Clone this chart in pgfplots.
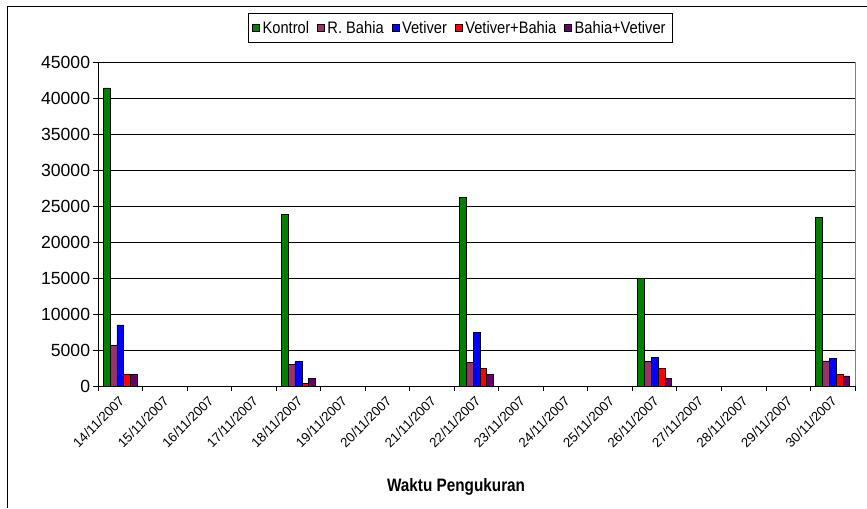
\documentclass[border=0pt]{standalone}
\usepackage{fontspec}
\setmainfont{Liberation Sans}
\newfontfamily\narrowfont[FakeStretch=0.88]{Liberation Sans}
\newfontfamily\labelfont[FakeStretch=0.85]{Liberation Sans}
\usepackage{pgfplots}
\usepackage{pgfplotstable}
\pgfplotsset{compat=1.18}
\definecolor{cK}{RGB}{0,128,0}
\definecolor{cRB}{RGB}{153,51,102}
\definecolor{cV}{RGB}{0,0,255}
\definecolor{cVB}{RGB}{255,0,0}
\definecolor{cBV}{RGB}{102,0,102}
\pgfplotstableread{
x k rb v vb bv
0 41400 5600 8500 1600 1600
4 23800 3000 3400 400 1100
8 26200 3300 7500 2500 1600
12 14900 3400 4000 2500 1100
16 23400 3500 3800 1600 1400
}\datatable
\begin{document}
\begin{tikzpicture}
\useasboundingbox (-73.5pt,-91.5pt) rectangle (576.75pt,289.5pt);
\draw[black,line width=0.75pt] (-67.5pt,-91.5pt) -- (-67.5pt,284.25pt) -- (576.75pt,284.25pt);
\begin{axis}[
  at={(0pt,0pt)}, anchor=south west,
  scale only axis,
  width=567.75pt, height=243pt,
  ybar=0pt, bar width=5.1pt,
  xmin=-0.5, xmax=16.5,
  ymin=0, ymax=45000,
  axis x line=bottom, axis y line=left,
  axis line style={-, black, line width=0.6pt},
  xtick={0,...,16},
  xticklabels={14/11/2007,15/11/2007,16/11/2007,17/11/2007,18/11/2007,19/11/2007,20/11/2007,21/11/2007,22/11/2007,23/11/2007,24/11/2007,25/11/2007,26/11/2007,27/11/2007,28/11/2007,29/11/2007,30/11/2007},
  minor xtick={-0.5,0.5,...,16.5},
  major x tick style={draw=none},
  minor x tick style={black, line width=0.6pt},
  minor tick length=3.75pt,
  tick align=outside,
  major tick length=3.75pt,
  ytick={0,5000,...,45000},
  y tick style={black, line width=0.6pt},
  ymajorgrids,
  grid style={black, line width=0.5pt},
  scaled y ticks=false,
  /pgf/number format/1000 sep={},
  /pgf/number format/assume math mode=true,
  yticklabel style={font=\fontsize{13.2}{15}\selectfont, inner sep=2pt},
  xticklabel style={font=\fontsize{10}{11}\selectfont, rotate=45, anchor=north east, inner sep=1pt, xshift=-2pt},
  xlabel={\labelfont\bfseries Waktu Pengukuran},
  xlabel style={font=\fontsize{13.5}{15}\selectfont, at={(rel axis cs:0.473,0)}, anchor=center, yshift=-76pt},
  legend columns=-1,
  legend style={at={(rel axis cs:0.4785,1.105)}, anchor=center, draw=black, line width=0.6pt, fill=white,
    font=\narrowfont\fontsize{12.5}{14}\selectfont, inner xsep=3pt, inner ysep=3.5pt,
    /tikz/every even column/.append style={column sep=4pt}},
  legend image code/.code={\draw[#1,draw=black,line width=0.4pt] (0pt,-2.7pt) rectangle (5.4pt,2.7pt);},
  every axis plot/.append style={draw=black, line width=0.4pt},
  clip=false,
]
\addplot[fill=cK] table[x=x,y=k] {\datatable};
\addplot[fill=cRB] table[x=x,y=rb] {\datatable};
\addplot[fill=cV] table[x=x,y=v] {\datatable};
\addplot[fill=cVB] table[x=x,y=vb] {\datatable};
\addplot[fill=cBV] table[x=x,y=bv] {\datatable};
\legend{Kontrol,R. Bahia,Vetiver,Vetiver+Bahia,Bahia+Vetiver}
\draw[gray, line width=0.6pt] (rel axis cs:1,0) -- (rel axis cs:1,1);
\end{axis}
\end{tikzpicture}
\end{document}
